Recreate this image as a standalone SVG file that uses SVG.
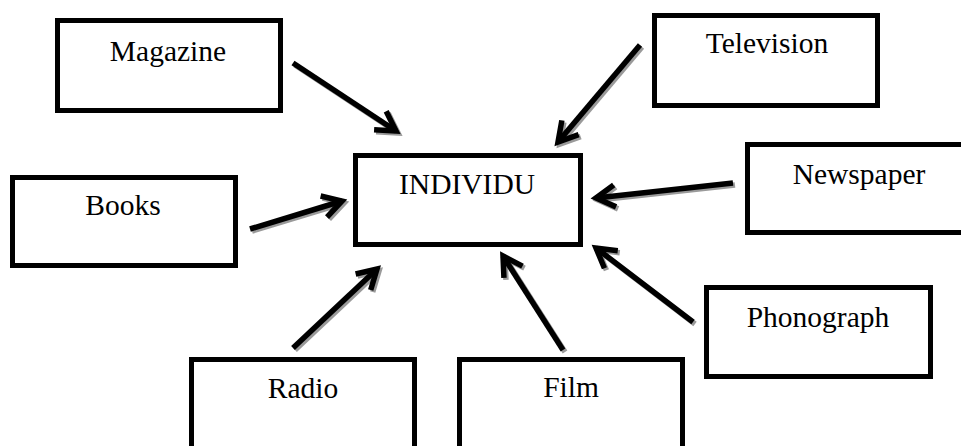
<svg xmlns="http://www.w3.org/2000/svg" width="961" height="446" viewBox="0 0 961 446">
<style>
.box{fill:#fff;stroke:#000;stroke-width:5}
.lbl{font-family:"Liberation Serif","Times New Roman",serif;font-size:29.5px;fill:#000;text-anchor:middle}
.arr{fill:none;stroke:#000;stroke-width:5.5;stroke-linejoin:miter}
.sh{fill:none;stroke:#9a9a9a;stroke-width:5.5}
</style>
<defs>
<marker id="head" markerUnits="userSpaceOnUse" orient="auto" markerWidth="40" markerHeight="40" refX="0" refY="0" viewBox="-30 -20 40 40" overflow="visible">
<path d="M-19,-11 L0,0 L-19,11" fill="none" stroke="#000" stroke-width="5.5"/>
</marker>
<marker id="headsh" markerUnits="userSpaceOnUse" orient="auto" markerWidth="40" markerHeight="40" refX="0" refY="0" viewBox="-30 -20 40 40" overflow="visible">
<path d="M-19,-11 L0,0 L-19,11" fill="none" stroke="#9a9a9a" stroke-width="5.5"/>
</marker>
</defs>
<rect width="961" height="446" fill="#fff"/>
<g id="connectors">
<g transform="translate(2,2)">
<path class="sh" marker-end="url(#headsh)" d="M293,63 L396,131"/>
<path class="sh" marker-end="url(#headsh)" d="M250,229 L342,201"/>
<path class="sh" marker-end="url(#headsh)" d="M640,45 L558,142"/>
<path class="sh" marker-end="url(#headsh)" d="M733,183 L596,198"/>
<path class="sh" marker-end="url(#headsh)" d="M293,348 L377,269"/>
<path class="sh" marker-end="url(#headsh)" d="M563,350 L503,256"/>
<path class="sh" marker-end="url(#headsh)" d="M693,322 L596,248"/>
</g>
<path class="arr" marker-end="url(#head)" d="M293,63 L396,131"/>
<path class="arr" marker-end="url(#head)" d="M250,229 L342,201"/>
<path class="arr" marker-end="url(#head)" d="M640,45 L558,142"/>
<path class="arr" marker-end="url(#head)" d="M733,183 L596,198"/>
<path class="arr" marker-end="url(#head)" d="M293,348 L377,269"/>
<path class="arr" marker-end="url(#head)" d="M563,350 L503,256"/>
<path class="arr" marker-end="url(#head)" d="M693,322 L596,248"/>
</g>
<g id="magazine"><rect class="box" x="57.5" y="20.5" width="223" height="90"/><text class="lbl" x="168" y="61">Magazine</text></g>
<g id="television"><rect class="box" x="654.5" y="15.5" width="223" height="90"/><text class="lbl" x="767" y="53">Television</text></g>
<g id="books"><rect class="box" x="12.5" y="177.5" width="223" height="88"/><text class="lbl" x="123" y="215">Books</text></g>
<g id="individu"><rect class="box" x="355.5" y="155.5" width="225" height="89"/><text class="lbl" x="467" y="194">INDIVIDU</text></g>
<g id="newspaper"><rect class="box" x="747.5" y="144.5" width="230" height="88"/><text class="lbl" x="859" y="184">Newspaper</text></g>
<g id="phonograph"><rect class="box" x="706.5" y="287.5" width="224" height="89"/><text class="lbl" x="818" y="327">Phonograph</text></g>
<g id="radio"><rect class="box" x="191.5" y="359.5" width="223" height="100"/><text class="lbl" x="303" y="398">Radio</text></g>
<g id="film"><rect class="box" x="459.5" y="359.5" width="223" height="100"/><text class="lbl" x="571" y="397">Film</text></g>
</svg>
